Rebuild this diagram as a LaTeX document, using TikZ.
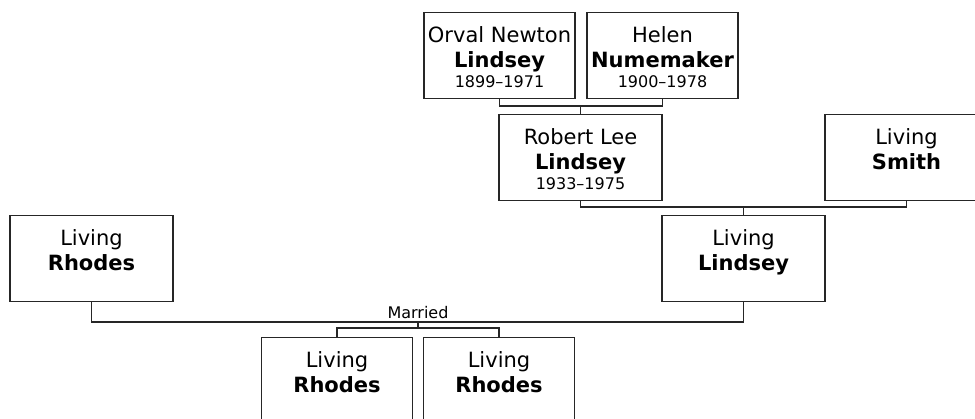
\documentclass[tikz,border=0pt]{standalone}
\usepackage{fontspec}
\setmainfont{DejaVu Sans}
\usetikzlibrary{positioning}
\newcommand{\card}[1]{\begin{tabular}[t]{@{}c@{}}#1\end{tabular}}

\begin{document}
\begin{tikzpicture}[x=0.75pt, y=-0.75pt,
  person/.style={draw=black!85, line width=0.9pt, anchor=north, inner xsep=0pt, inner ysep=0pt,
    minimum width=122.25pt, text height=22.5pt, text depth=42pt, font=\fontsize{15.75}{18.75}\selectfont},
  narrow/.style={person, minimum width=113.25pt},
  years/.style={font=\fontsize{12}{15}\selectfont},
  link/.style={draw=black!85, line width=0.9pt}]
\useasboundingbox (0,0) rectangle (975,418);
\node[narrow] (orval) at (499.5,12) {\card{Orval Newton\\\textbf{Lindsey}\\[-3.5pt]\fontsize{12}{15}\selectfont 1899--1971}};
\node[narrow] (helen) at (662.5,12) {\card{Helen\\\textbf{Numemaker}\\[-3.5pt]\fontsize{12}{15}\selectfont 1900--1978}};
\node[person] (robert) at (580.5,114) {\card{Robert Lee\\\textbf{Lindsey}\\[-3.5pt]\fontsize{12}{15}\selectfont 1933--1975}};
\node[person] (smith) at (906.5,114) {\card{Living\\\textbf{Smith}}};
\node[person] (lindsey) at (743.5,215) {\card{Living\\\textbf{Lindsey}}};
\node[person] (rhodes) at (91.5,215) {\card{Living\\\textbf{Rhodes}}};
\node[narrow] (kid1) at (337,337) {\card{Living\\\textbf{Rhodes}}};
\node[narrow] (kid2) at (499,337) {\card{Living\\\textbf{Rhodes}}};
\coordinate (up) at (580.5,106);
\coordinate (mid) at (743.5,207);
\coordinate (wed) at (418,322);
\coordinate (kids) at (418,328);
\draw[link] (orval.south) |- (up) -| (helen.south);
\draw[link] (up) -- (robert.north);
\draw[link] (robert.south) |- (mid) -| (smith.south);
\draw[link] (mid) -- (lindsey.north);
\draw[link] (rhodes.south) |- (wed) -| (lindsey.south);
\node[years, anchor=base] (married) at (418,318) {Married};
\draw[link] (wed) -- (kids);
\draw[link] (kid1.north) |- (kids) -| (kid2.north);
\end{tikzpicture}
\end{document}
